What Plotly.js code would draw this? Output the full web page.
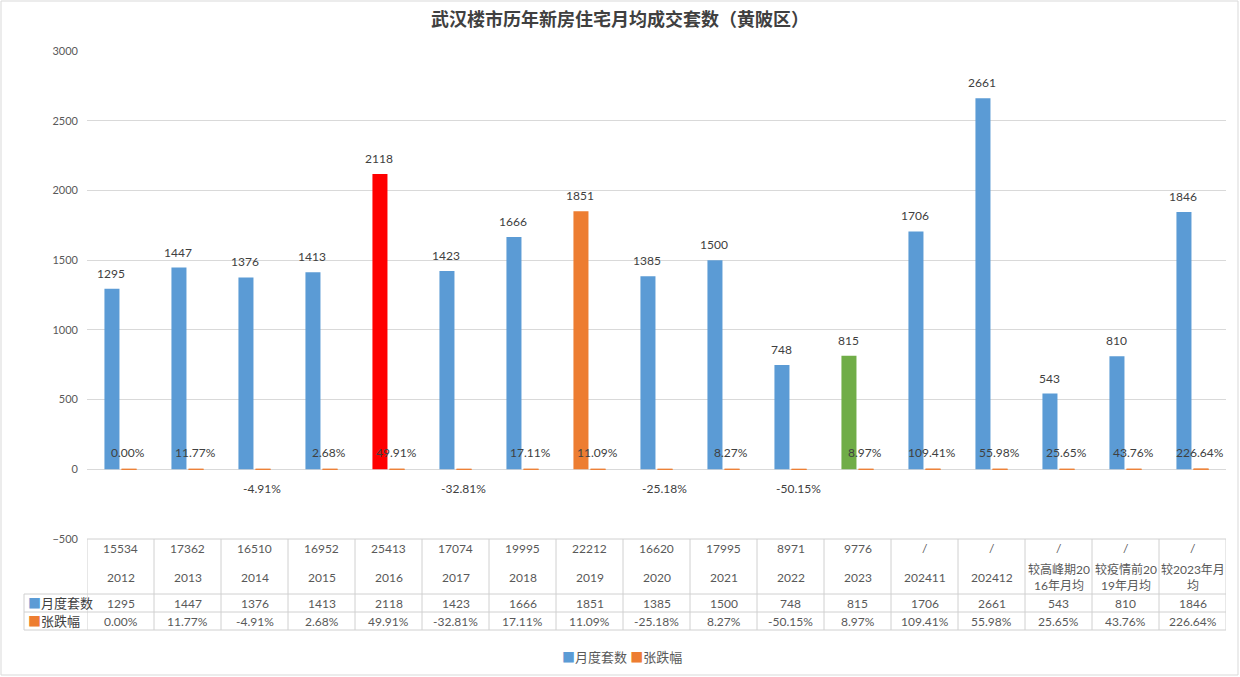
<!DOCTYPE html>
<html>
<head>
<meta charset="utf-8">
<script src="https://cdn.plot.ly/plotly-3.0.1.min.js"></script>
<style>html,body{margin:0;padding:0;background:#fff;}#chart{width:1240px;height:677px;}</style>
</head>
<body>
<div id="chart"></div>
<script>
// ---- data ----
const categories = ['2012','2013','2014','2015','2016','2017','2018','2019','2020','2021','2022','2023','202411','202412','较高峰期2016年月均','较疫情前2019年月均','较2023年月均'];
const tableLabels = ['2012','2013','2014','2015','2016','2017','2018','2019','2020','2021','2022','2023','202411','202412','较高峰期20<br>16年月均','较疫情前20<br>19年月均','较2023年月<br>均'];
const yearTotals = ['15534','17362','16510','16952','25413','17074','19995','22212','16620','17995','8971','9776','/','/','/','/','/'];
const monthlySets = [1295,1447,1376,1413,2118,1423,1666,1851,1385,1500,748,815,1706,2661,543,810,1846];
const changePct = [0.00,11.77,-4.91,2.68,49.91,-32.81,17.11,11.09,-25.18,8.27,-50.15,8.97,109.41,55.98,25.65,43.76,226.64];
const seriesNames = ['月度套数','张跌幅'];
const highlight = {'2016':'#FF0000','2019':'#ED7D31','2023':'#70AD47'};

const BLUE = '#5B9BD5', ORANGE = '#ED7D31';
const FONT = "Lato, 'Noto Sans CJK SC', sans-serif";
const TXT = '#404040';

const barColors = categories.map(c => highlight[c] || BLUE);
const changeVals = changePct.map(v => v / 100);
const changeText = changePct.map(v => v.toFixed(2) + '%');

const traces = [
  {
    type: 'bar', name: seriesNames[0], x: categories, y: monthlySets,
    marker: {color: barColors}, textposition: 'none', hoverinfo: 'skip'
  },
  {
    type: 'bar', name: seriesNames[1], x: categories, y: changeVals,
    marker: {color: ORANGE, line: {color: ORANGE, width: 1}}, textposition: 'none', hoverinfo: 'skip'
  }
];

// ---- table geometry (paper coords relative to plot area) ----
const T = 51, B = 539;
const py = px => (B - px) / (B - T);
const L = 87, R = 1226, W = R - L;
const pxX = px => (px - L) / W;
const n = categories.length;
const OFF = 0.135; // group offset of each bar within its category

const shapes = [];
const lineStyle = {color: '#D0D0D0', width: 1};
shapes.push({type:'line', xref:'paper', yref:'paper', x0:0, x1:1, y0:py(539), y1:py(539), line:lineStyle});
[594, 612, 630].forEach(yp => shapes.push({type:'line', xref:'paper', yref:'paper', x0:pxX(24), x1:1, y0:py(yp), y1:py(yp), line:lineStyle}));
for (let i = 0; i <= n; i++) {
  shapes.push({type:'line', xref:'x', yref:'paper', x0:i-0.5, x1:i-0.5, y0:py(630), y1:py(539), line:lineStyle});
}
shapes.push({type:'line', xref:'paper', yref:'paper', x0:pxX(24), x1:pxX(24), y0:py(630), y1:py(594), line:lineStyle});
shapes.push({type:'rect', xref:'paper', yref:'paper', x0:pxX(1), x1:pxX(1238), y0:py(675), y1:py(1), line:{color:'#D9D9D9', width:1}});

const annotations = [];
const labelFont = {family: FONT, size: 12, color: TXT};
// data labels
monthlySets.forEach((v, i) => {
  annotations.push({xref:'x', yref:'y', x:i - OFF, y:v, text:String(v), showarrow:false, font:labelFont,
    xanchor:'center', yanchor:'bottom', yshift:6});
});
changeVals.forEach((v, i) => {
  const neg = v < 0;
  annotations.push({xref:'x', yref:'y', x:i + OFF - 0.02, y:v, text:changeText[i], showarrow:false, font:labelFont,
    xanchor:'center', yanchor: neg ? 'top' : 'bottom', yshift: neg ? -10 : 7});
});
// table cells
const cellFont = {family: FONT, size: 12, color: '#595959'};
categories.forEach((c, i) => {
  annotations.push({xref:'x', yref:'paper', x:i, y:py(548), text:yearTotals[i], showarrow:false, font:cellFont, yanchor:'middle'});
  annotations.push({xref:'x', yref:'paper', x:i, y:py(577), text:tableLabels[i], showarrow:false, font:cellFont, yanchor:'middle'});
  annotations.push({xref:'x', yref:'paper', x:i, y:py(603), text:String(monthlySets[i]), showarrow:false, font:cellFont, yanchor:'middle'});
  annotations.push({xref:'x', yref:'paper', x:i, y:py(621), text:changeText[i], showarrow:false, font:cellFont, yanchor:'middle'});
});
[[603, BLUE, seriesNames[0]], [621, ORANGE, seriesNames[1]]].forEach(([yp, col, name]) => {
  annotations.push({xref:'paper', yref:'paper', x:pxX(26), y:py(yp), xanchor:'left', yanchor:'middle', showarrow:false,
    text:'<span style="color:' + col + '">■</span>' + name, font:{family: FONT, size: 13, color: '#404040'}});
});
// legend
annotations.push({xref:'paper', yref:'paper', x:pxX(622), y:py(657), xanchor:'center', yanchor:'middle', showarrow:false,
  text:'<span style="color:' + BLUE + '">■</span>' + seriesNames[0] + ' <span style="color:' + ORANGE + '">■</span>' + seriesNames[1],
  font:{family: FONT, size: 13, color: '#595959'}});

const layout = {
  width: 1240, height: 677,
  margin: {l: L, r: 1240 - R, t: T, b: 677 - B, autoexpand: false},
  paper_bgcolor: '#fff', plot_bgcolor: '#fff',
  font: {family: FONT, color: '#595959'},
  title: {text: '武汉楼市历年新房住宅月均成交套数（黄陂区）', x: 0.5, xref: 'container', y: 1 - 20/677, yref: 'container', yanchor: 'middle',
    font: {family: "'Noto Sans CJK SC', sans-serif", size: 18, color: '#404040', weight: 'bold'}},
  barmode: 'group', bargap: 0.49, bargroupgap: 0.12,
  xaxis: {type: 'category', range: [-0.5, n - 0.5], showticklabels: false, showgrid: false, zeroline: false, showline: false, ticks: ''},
  yaxis: {range: [-500, 3000], dtick: 500, tick0: 0, showgrid: true, gridcolor: '#D9D9D9', gridwidth: 1,
    zeroline: true, zerolinecolor: '#D9D9D9', zerolinewidth: 1, showline: false, ticks: '',
    tickfont: {family: FONT, size: 11, color: '#595959'}, ticklabelstandoff: 8},
  showlegend: false,
  shapes: shapes,
  annotations: annotations
};

Plotly.newPlot('chart', traces, layout, {displayModeBar: false, staticPlot: true});
</script>
</body>
</html>
